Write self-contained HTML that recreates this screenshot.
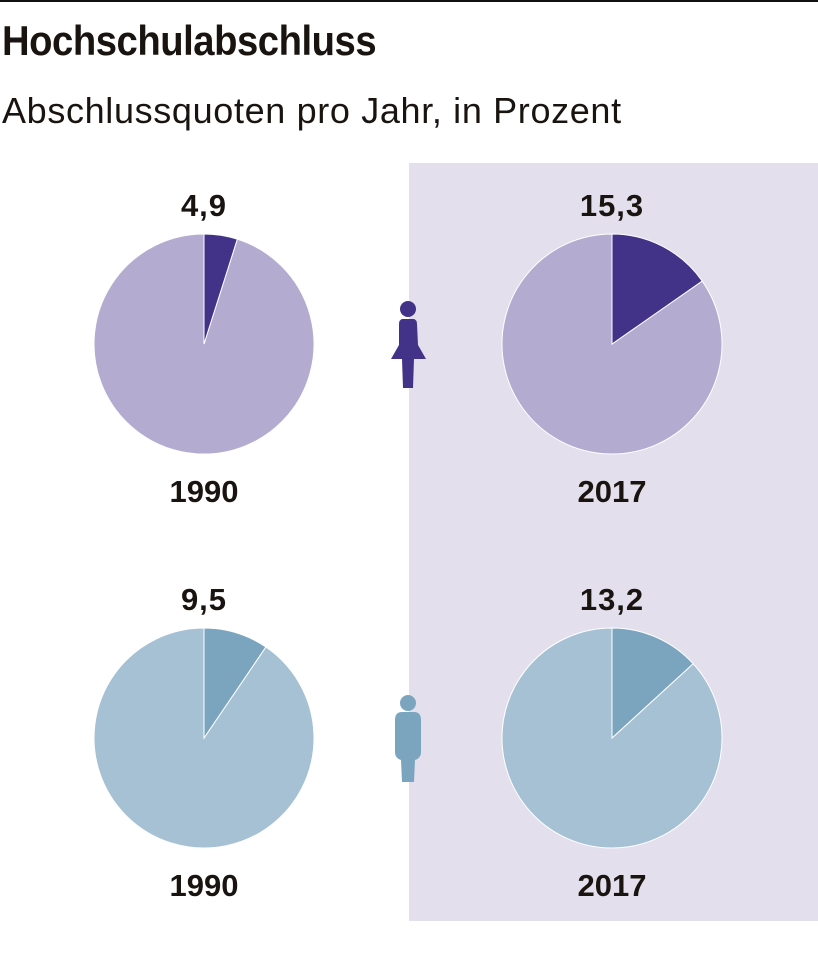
<!DOCTYPE html>
<html><head><meta charset="utf-8"><style>
body{margin:0;width:818px;height:953px;background:#fff;position:relative;font-family:"Liberation Sans",sans-serif;color:#1a1410;overflow:hidden}
.t{position:absolute;white-space:nowrap}
</style></head><body>
<div style="position:absolute;left:0;top:0;width:818px;height:2px;background:#111"></div>
<div class="t" style="left:2px;top:17px;font-size:42px;font-weight:bold;transform:scaleX(0.91);transform-origin:left;letter-spacing:-0.5px">Hochschulabschluss</div>
<div class="t" style="left:2px;top:90px;font-size:36px;letter-spacing:0.65px">Abschlussquoten pro Jahr, in Prozent</div>
<div style="position:absolute;left:409px;top:163px;width:409px;height:758px;background:#e3dfed"></div>
<svg id="c" width="818" height="953" style="position:absolute;left:0;top:0">
<g fill="#433388">
<circle cx="408" cy="309" r="8"/>
<path d="M402 319 H414 Q417 320 417 324 L418 345 L426 359 H414 L413 388 H403 L402 359 H391 L399 345 L399 324 Q399 320 402 319Z"/>
</g>
<g fill="#7ba5bf">
<circle cx="408" cy="703" r="8"/>
<path d="M402 712 H414 Q421 712 421 720 V752 Q421 758 415 760 L414 782 H402 L401 760 Q395 758 395 752 V720 Q395 712 402 712Z"/>
</g>
</svg>
<script>
const years=["1990","2017","1990","2017"];
const groups=["frauen","frauen","maenner","maenner"];
const values=[4.9,15.3,9.5,13.2];
const labels=["4,9","15,3","9,5","13,2"];
const cx=[204,612,204,612], cy=[344,344,738,738], R=110;
const darkC={frauen:"#433388",maenner:"#7ba5bf"}, lightC={frauen:"#b3acd0",maenner:"#a6c1d4"};
const svg=document.getElementById('c');const NS="http://www.w3.org/2000/svg";
function pt(x,y,f){const a=f*2*Math.PI;return [x+R*Math.sin(a),y-R*Math.cos(a)];}
values.forEach((v,i)=>{
 const f=v/100;const [x1,y1]=pt(cx[i],cy[i],f);
 const big=f>0.5?1:0;
 const rest=document.createElementNS(NS,'path');
 rest.setAttribute('d',`M${cx[i]} ${cy[i]} L${x1} ${y1} A${R} ${R} 0 ${1-big} 1 ${cx[i]} ${cy[i]-R} Z`);
 rest.setAttribute('fill',lightC[groups[i]]);rest.setAttribute('stroke','#fff');rest.setAttribute('stroke-width','1');
 
 
 svg.appendChild(rest);
 const s=document.createElementNS(NS,'path');
 s.setAttribute('d',`M${cx[i]} ${cy[i]} L${cx[i]} ${cy[i]-R} A${R} ${R} 0 ${big} 1 ${x1} ${y1} Z`);
 s.setAttribute('fill',darkC[groups[i]]);s.setAttribute('stroke','#fff');s.setAttribute('stroke-width','1');
 
 
 svg.appendChild(s);
 const t=document.createElementNS(NS,'text');
 t.setAttribute('x',cx[i]);t.setAttribute('y',cy[i]-128);t.setAttribute('text-anchor','middle');
 t.setAttribute('font-size','31');t.setAttribute('font-weight','bold');t.setAttribute('fill','#1a1410');
 t.setAttribute('letter-spacing','1');
 t.setAttribute('font-family','Liberation Sans, sans-serif');t.textContent=labels[i];
 
 
 svg.appendChild(t);
 const y=document.createElementNS(NS,'text');
 y.setAttribute('x',cx[i]);y.setAttribute('y',cy[i]+158);y.setAttribute('text-anchor','middle');
 y.setAttribute('font-size','31');y.setAttribute('font-weight','bold');y.setAttribute('fill','#1a1410');
 y.setAttribute('font-family','Liberation Sans, sans-serif');y.textContent=years[i];
 
 
 svg.appendChild(y);
});
</script>
</body></html>
